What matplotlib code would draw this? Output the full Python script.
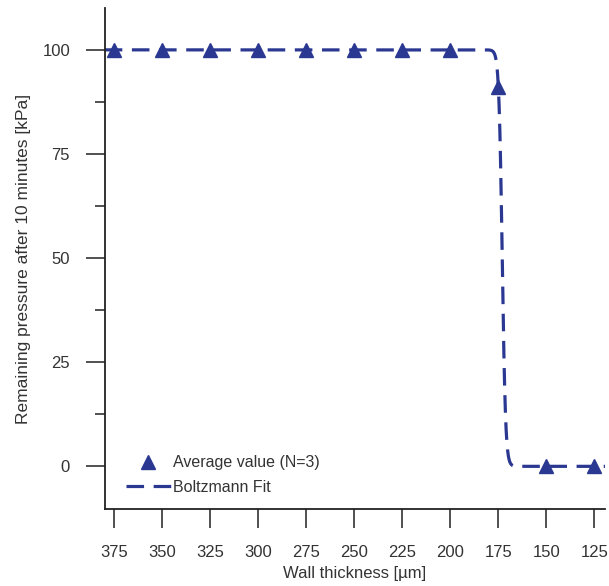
import matplotlib.pyplot as plt
import numpy as np
from matplotlib.ticker import MultipleLocator

plt.rcParams['font.family'] = ['Liberation Sans', 'DejaVu Sans']

# measured averages
thickness = [375, 350, 325, 300, 275, 250, 225, 200, 175, 150, 125]
pressure = [100, 100, 100, 100, 100, 100, 100, 100, 91, 0, 0]

# Boltzmann fit parameters
A1 = 100.0
A2 = 0.0
x0 = 173.0
dx = 0.87

navy = '#2B3892'

fig = plt.figure(figsize=(6.09, 5.86), dpi=100)
ax = fig.add_axes([0.172, 0.131, 0.822, 0.855])

xfit = np.linspace(380, 119.5, 2000)
yfit = A2 + (A1 - A2) / (1 + np.exp(-(xfit - x0) / dx))
ax.plot(xfit, yfit, color=navy, linewidth=2.3, dashes=(5.5, 3.0), label='Boltzmann Fit')
ax.plot(thickness, pressure, linestyle='none', marker='^', markersize=10,
        color=navy, label='Average value (N=3)')

ax.set_xlim(380, 119.3)
ax.set_ylim(-10.3, 110)
ax.set_xticks(thickness)
ax.set_yticks([0, 25, 50, 75, 100])
ax.yaxis.set_minor_locator(MultipleLocator(12.5))

for s in ['top', 'right']:
    ax.spines[s].set_visible(False)
for s in ['left', 'bottom']:
    ax.spines[s].set_linewidth(1.3)
    ax.spines[s].set_color('#222222')

ax.tick_params(axis='both', which='major', direction='out', length=14, width=1.2,
               color='#333333', labelsize=12, labelcolor='#333333')
ax.tick_params(axis='y', which='major', pad=11)
ax.tick_params(axis='x', which='major', pad=12)
ax.tick_params(axis='y', which='minor', direction='out', length=7, width=1.2, color='#333333')

ax.set_xlabel('Wall thickness [µm]', fontsize=12, color='#333333', labelpad=4)
ax.set_ylabel('Remaining pressure after 10 minutes [kPa]', fontsize=12.5, color='#333333', labelpad=8)

handles, labels = ax.get_legend_handles_labels()
ax.legend(handles[::-1], labels[::-1], loc='lower left', bbox_to_anchor=(0.014, 0.0),
          frameon=False, fontsize=11.5, handlelength=2.8, handletextpad=0.15,
          labelspacing=0.6, labelcolor='#333333')

plt.savefig('out.png', dpi=100)
